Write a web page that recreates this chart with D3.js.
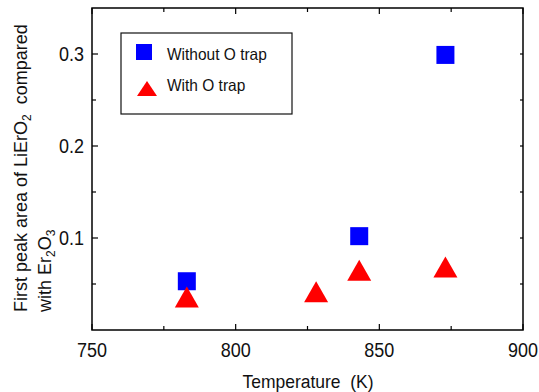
<!DOCTYPE html>
<html>
<head>
<meta charset="utf-8">
<script src="https://cdn.jsdelivr.net/npm/d3@7"></script>
<style>
  html, body { margin: 0; padding: 0; background: #fff; }
  svg { display: block; font-family: "Liberation Sans", Arial, Helvetica, sans-serif; }
  text { white-space: pre; }
</style>
</head>
<body>
<svg id="chart" width="539" height="392"></svg>
<script>
// ---- data ----
const withoutTrapTemp = [783, 843, 873];
const withoutTrapArea = [0.053, 0.102, 0.299];
const withTrapTemp = [783, 828, 843, 873];
const withTrapArea = [0.036, 0.0415, 0.065, 0.0685];
const xTicks = [750, 800, 850, 900];
const xMinorTicks = [775, 825, 875];
const yTicks = [0.1, 0.2, 0.3];
const yMinorTicks = [0.05, 0.15, 0.25];
const seriesNames = ["Without O trap", "With O trap"];

// ---- layout ----
const svg = d3.select("#chart");
const L = 92, R = 523, T = 8, B = 330;
const x = d3.scaleLinear().domain([750, 900]).range([L, R]);
const y = d3.scaleLinear().domain([0, 0.35]).range([B, T]);
const stretch = 1.1;

// frame
svg.append("rect").attr("x", L).attr("y", T).attr("width", R - L).attr("height", B - T)
  .attr("fill", "none").attr("stroke", "#000").attr("stroke-width", 1.5);

// ticks (inward)
const g = svg.append("g").attr("stroke", "#000").attr("stroke-width", 1.2);
xTicks.forEach(v => {
  g.append("line").attr("x1", x(v)).attr("x2", x(v)).attr("y1", B).attr("y2", B - 6);
  g.append("line").attr("x1", x(v)).attr("x2", x(v)).attr("y1", T).attr("y2", T + 6);
});
xMinorTicks.forEach(v => {
  g.append("line").attr("x1", x(v)).attr("x2", x(v)).attr("y1", B).attr("y2", B - 4);
  g.append("line").attr("x1", x(v)).attr("x2", x(v)).attr("y1", T).attr("y2", T + 4);
});
yTicks.forEach(v => {
  g.append("line").attr("x1", L).attr("x2", L + 6).attr("y1", y(v)).attr("y2", y(v));
  g.append("line").attr("x1", R).attr("x2", R - 3).attr("y1", y(v)).attr("y2", y(v));
});
yMinorTicks.forEach(v => {
  g.append("line").attr("x1", L).attr("x2", L + 4).attr("y1", y(v)).attr("y2", y(v));
  g.append("line").attr("x1", R).attr("x2", R - 3).attr("y1", y(v)).attr("y2", y(v));
});

// tick labels
const fmtY = d3.format(".1f");
xTicks.forEach(v => {
  svg.append("text").attr("transform", `translate(${x(v)},357) scale(1,${stretch})`)
    .attr("text-anchor", "middle").attr("font-size", 18).attr("fill", "#111").text(v);
});
yTicks.forEach(v => {
  svg.append("text").attr("transform", `translate(84,${y(v) + 7}) scale(1,${stretch})`)
    .attr("text-anchor", "end").attr("font-size", 18).attr("fill", "#111").text(fmtY(v));
});

// axis titles
svg.append("text").attr("transform", `translate(308,388) scale(1,${stretch})`)
  .attr("text-anchor", "middle").attr("font-size", 17.5).attr("fill", "#111").text("Temperature  (K)");

const yt = svg.append("g").attr("transform", "translate(0,312) rotate(-90)")
  .attr("font-size", 18).attr("fill", "#111");
const l1 = yt.append("text").attr("x", 0).attr("y", 27);
l1.append("tspan").text("First peak area of LiErO");
l1.append("tspan").attr("font-size", 12).attr("dy", 4).text("2");
l1.append("tspan").attr("dy", -4).text("  compared");
const l2 = yt.append("text").attr("x", 0).attr("y", 51);
l2.append("tspan").text("with Er");
l2.append("tspan").attr("font-size", 12).attr("dy", 4).text("2");
l2.append("tspan").attr("dy", -4).text("O");
l2.append("tspan").attr("font-size", 12).attr("dy", 4).text("3");

// markers
const tri = (w, h) => `M0,${-h/2}L${w/2},${h/2}L${-w/2},${h/2}Z`;
const sq = 18;
svg.append("g").selectAll("rect").data(withoutTrapTemp.map((t, i) => [t, withoutTrapArea[i]]))
  .join("rect")
  .attr("x", d => x(d[0]) - sq/2).attr("y", d => y(d[1]) - sq/2)
  .attr("width", sq).attr("height", sq).attr("fill", "#0000ff");
svg.append("g").selectAll("path").data(withTrapTemp.map((t, i) => [t, withTrapArea[i]]))
  .join("path")
  .attr("transform", d => `translate(${x(d[0])},${y(d[1])})`)
  .attr("d", tri(24, 21)).attr("fill", "#ff0000");

// legend
svg.append("rect").attr("x", 121).attr("y", 33).attr("width", 171).attr("height", 81)
  .attr("fill", "#fff").attr("stroke", "#111").attr("stroke-width", 1.2);
svg.append("rect").attr("x", 136).attr("y", 44).attr("width", 16).attr("height", 16).attr("fill", "#0000ff");
svg.append("path").attr("transform", "translate(147,88.5)").attr("d", tri(20, 15)).attr("fill", "#ff0000");
svg.append("text").attr("transform", "translate(167,59.5) scale(1,1.05)").attr("font-size", 15.5).attr("fill", "#111").text(seriesNames[0]);
svg.append("text").attr("transform", "translate(167,91) scale(1,1.05)").attr("font-size", 15.5).attr("fill", "#111").text(seriesNames[1]);
</script>
</body>
</html>
